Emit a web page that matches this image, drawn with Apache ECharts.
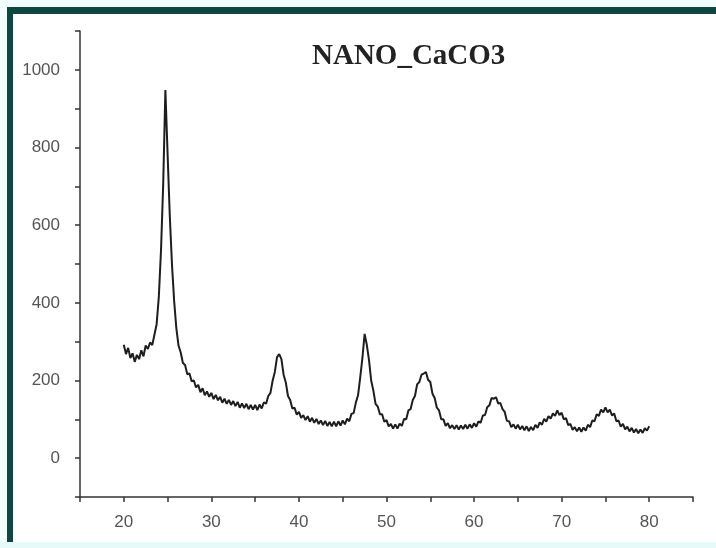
<!DOCTYPE html>
<html>
<head>
<meta charset="utf-8">
<script src="https://cdn.jsdelivr.net/npm/echarts@6/dist/echarts.min.js"></script>
<style>
  html, body { margin: 0; padding: 0; background: #f4fdfd; }
  #chart { width: 716px; height: 548px; }
</style>
</head>
<body>
<div id="chart"></div>
<script>
// XRD pattern, sampled every 0.25 deg 2-theta starting at 20
const angleStart = 20
const angleStep = 0.25
const intensity = [
  292, 268, 284, 258,   // 20
  270, 248, 266, 255,   // 21
  278, 262, 290, 281,   // 22
  298, 291, 318, 345,   // 23
  415, 535, 705, 948,   // 24
  785, 626, 500, 405,   // 25
  335, 290, 272, 245,   // 26
  240, 216, 218, 198,   // 27
  200, 182, 189, 170,   // 28
  180, 162, 172, 158,   // 29
  168, 152, 163, 149,   // 30
  158, 143, 153, 140,   // 31
  150, 137, 147, 134,   // 32
  145, 130, 141, 129,   // 33
  140, 126, 137, 125,   // 34
  137, 124, 138, 128,   // 35
  144, 140, 160, 168,   // 36
  200, 222, 260, 268,   // 37
  255, 215, 195, 160,   // 38
  150, 128, 130, 112,   // 39
  119, 104, 111, 98,    // 40
  108, 94, 104, 91,     // 41
  101, 88, 97, 85,      // 42
  96, 83, 93, 82,       // 43
  94, 82, 95, 84,       // 44
  97, 87, 102, 95,      // 45
  114, 116, 143, 162,   // 46
  208, 258, 320, 292,   // 47
  253, 200, 174, 140,   // 48
  133, 113, 113, 94,    // 49
  98, 82, 88, 76,       // 50
  87, 76, 89, 83,       // 51
  101, 100, 123, 126,   // 52
  150, 160, 190, 196,   // 53
  215, 218, 222, 202,   // 54
  196, 166, 155, 130,   // 55
  123, 100, 100, 83,    // 56
  90, 77, 85, 75,       // 57
  85, 74, 84, 75,       // 58
  86, 76, 87, 78,       // 59
  90, 81, 95, 91,       // 60
  110, 111, 131, 136,   // 61
  155, 153, 157, 141,   // 62
  142, 126, 119, 96,    // 63
  95, 80, 87, 76,       // 64
  86, 74, 83, 72,       // 65
  82, 70, 80, 72,       // 66
  86, 78, 92, 86,       // 67
  101, 94, 108, 102,    // 68
  115, 109, 123, 111,   // 69
  117, 100, 103, 85,    // 70
  88, 73, 80, 69,       // 71
  79, 68, 79, 71,       // 72
  86, 80, 97, 95,       // 73
  113, 109, 125, 118,   // 74
  131, 118, 125, 110,   // 75
  115, 95, 97, 81,      // 76
  88, 74, 81, 69,       // 77
  78, 66, 75, 64,       // 78
  74, 65, 77, 71,       // 79
  82                    // 80
]
const xLabels = [20, 30, 40, 50, 60, 70, 80]
const yLabels = [0, 200, 400, 600, 800, 1000]

const chart = echarts.init(document.getElementById('chart'))

const points = intensity.map((v, i) => [angleStart + i * angleStep, v])

const axisColor = '#333'
const labelStyle = {
  color: '#555',
  fontSize: 17,
  fontFamily: 'Liberation Sans, Arial, sans-serif'
}

const option = {
  backgroundColor: '#ffffff',
  animation: false,
  title: {
    text: 'NANO_CaCO3',
    left: 307,
    top: 37,
    textStyle: {
      fontFamily: 'Liberation Serif, Times New Roman, serif',
      fontWeight: 'bold',
      fontSize: 29,
      color: '#222'
    }
  },
  graphic: [
    // frame: dark teal band at top and left, pale strip at bottom
    { type: 'rect', shape: { x: 0, y: 0, width: 716, height: 7 }, style: { fill: '#f2fdfd' }, silent: true },
    { type: 'rect', shape: { x: 0, y: 0, width: 7, height: 548 }, style: { fill: '#f2fdfd' }, silent: true },
    { type: 'rect', shape: { x: 0, y: 542, width: 716, height: 6 }, style: { fill: '#e6fafa' }, silent: true },
    { type: 'rect', shape: { x: 7, y: 7, width: 709, height: 7 }, style: { fill: '#0f463f' }, silent: true },
    { type: 'rect', shape: { x: 7, y: 7, width: 6, height: 535 }, style: { fill: '#0f463f' }, silent: true }
  ],
  grid: {
    left: 80,
    right: 23,
    top: 31,
    bottom: 51
  },
  xAxis: {
    type: 'value',
    min: 15,
    max: 85,
    interval: 5,
    axisLine: { onZero: false, lineStyle: { color: axisColor, width: 1.5 } },
    axisTick: { show: true, length: 5, lineStyle: { color: axisColor, width: 1.5 } },
    axisLabel: {
      ...labelStyle,
      margin: 17,
      formatter: v => (xLabels.includes(v) ? String(v) : '')
    },
    splitLine: { show: false }
  },
  yAxis: {
    type: 'value',
    min: -100,
    max: 1100,
    interval: 100,
    axisLine: { show: true, onZero: false, lineStyle: { color: axisColor, width: 1.5 } },
    axisTick: { show: true, length: 5, lineStyle: { color: axisColor, width: 1.5 } },
    axisLabel: {
      ...labelStyle,
      margin: 20,
      formatter: v => (yLabels.includes(v) ? String(v) : '')
    },
    splitLine: { show: false }
  },
  series: [
    {
      type: 'line',
      data: points,
      showSymbol: false,
      symbol: 'none',
      lineStyle: { color: '#1e1e1e', width: 2 },
      silent: true
    }
  ]
}

chart.setOption(option)
</script>
</body>
</html>
